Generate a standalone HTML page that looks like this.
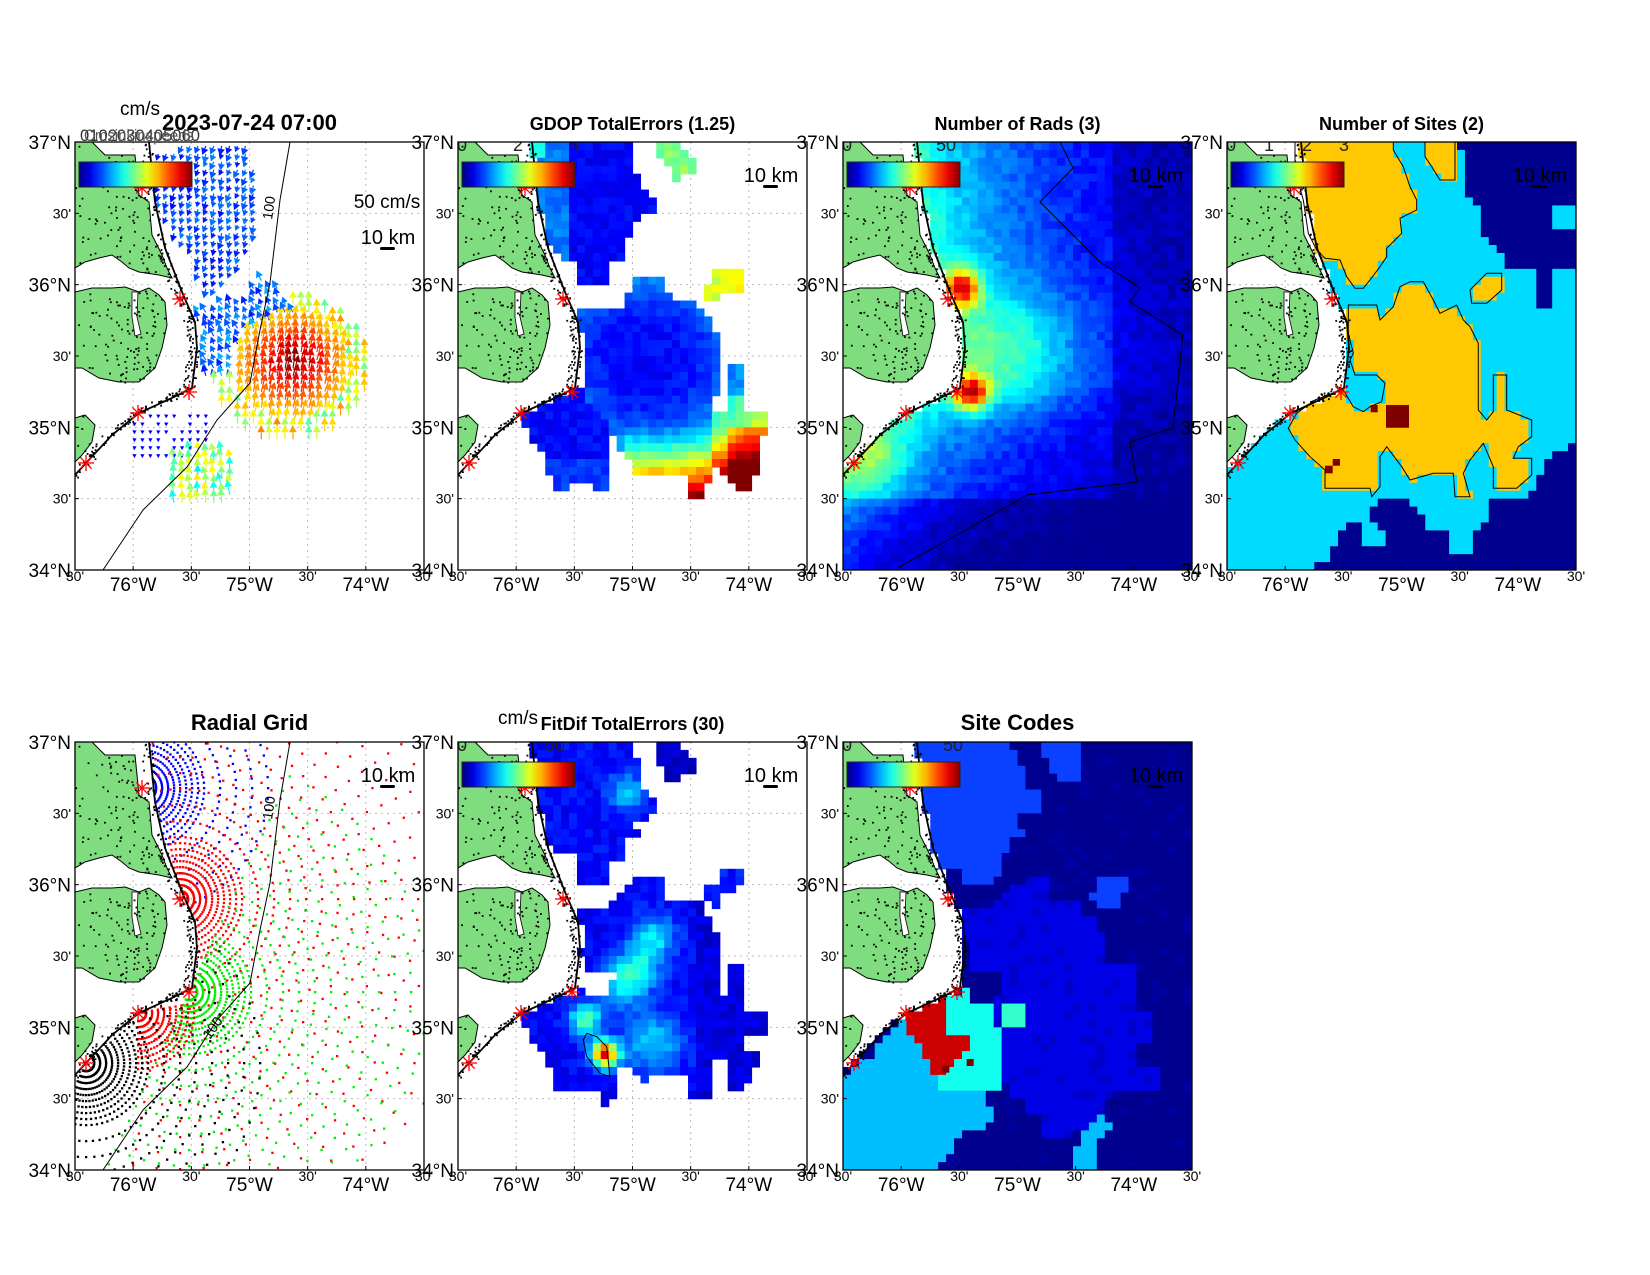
<!DOCTYPE html>
<html><head><meta charset="utf-8"><style>
html,body{margin:0;padding:0;background:#fff;}
svg{display:block;font-family:"Liberation Sans",Arial,sans-serif;}
</style></head><body>
<svg id="s" width="1650" height="1275" viewBox="0 0 1650 1275" xmlns="http://www.w3.org/2000/svg"></svg>
<script>
var W=349,H=428,CW=W/44,CH=H/54;
var seed=12345;function rnd(){seed=(seed*16807)%2147483647;return (seed-1)/2147483646;}
function jet(v){v=Math.max(0,Math.min(1,v));var f=function(t){return Math.round(255*Math.max(0,Math.min(1,1.5-Math.abs(4*v-t))));};return 'rgb('+f(3)+','+f(2)+','+f(1)+')';}
function pip(p,poly){var x=p[0],y=p[1],c=false;for(var i=0,j=poly.length-1;i<poly.length;j=i++){var xi=poly[i][0],yi=poly[i][1],xj=poly[j][0],yj=poly[j][1];if(((yi>y)!=(yj>y))&&(x<(xj-xi)*(y-yi)/(yj-yi)+xi))c=!c;}return c;}
function conv(arr,dx,dy){return arr.map(function(p){return [p[0]/3+dx,p[1]/3+dy];});}
function pts(poly){return poly.map(function(p){return p[0].toFixed(1)+','+p[1].toFixed(1);}).join(' ');}
var west=[[0,-20],[74,-20],[74,0],[80,60],[90,106],[107,150],[120,180],[122,206],[117,246],[97,256],[64,271],[37,293],[0,333],[-20,360],[-20,-20]];
function ocean(x,y){return !pip([x,y],west);}
var coast=[[74,0],[80,60],[90,106],[107,150],[120,180],[122,206],[117,246],[97,256],[64,271],[37,293],[0,333]];
var land1=[[0,0],[17,0],[30,13],[60,13],[64,53],[74,60],[77,93],[87,113],[92,126],[97,136],[84,133],[64,130],[54,126],[47,120],[37,113],[24,116],[10,120],[0,126]];
var land2=[[0,150],[17,146],[37,146],[50,145],[64,150],[74,146],[84,153],[90,160],[92,183],[87,206],[80,226],[64,240],[44,240],[24,236],[7,226],[0,226]];
var land3=[[0,276],[10,273],[20,283],[17,300],[7,313],[0,320]];
var notch=[[57,150],[63,150],[62,175],[66,192],[60,194],[57,175]];
var stars=[[67,46],[105,157],[114,250],[63,271],[11,321]];
var bathy=[[215,0],[205,58],[195,141],[185,188],[175,241],[142,278],[112,325],[68,368],[28,428]];
var dots=[];
(function(){var polys=[land1,land2,land3];for(var k=0;k<700;k++){var x=rnd()*100,y=rnd()*330;for(var q=0;q<3;q++){if(pip([x,y],polys[q])){var nearEdge=(x>40)||rnd()<0.35;if(nearEdge)dots.push([x,y]);}}}
for(var k=0;k<260;k++){var t=rnd()*(coast.length-1.001);var i=Math.floor(t),f=t-i;var x=coast[i][0]+(coast[i+1][0]-coast[i][0])*f,y=coast[i][1]+(coast[i+1][1]-coast[i][1])*f;dots.push([x-rnd()*12+2,y+rnd()*6-3]);}})();

function heat(fn){var s='';for(var i=0;i<44;i++)for(var j=0;j<54;j++){var x=(i+0.5)*CW,y=(j+0.5)*CH;if(!ocean(x,y))continue;var c=fn(x,y,i,j);if(!c)continue;s+='<rect x="'+(i*CW).toFixed(2)+'" y="'+(j*CH).toFixed(2)+'" width="'+(CW+0.6).toFixed(2)+'" height="'+(CH+0.6).toFixed(2)+'" fill="'+c+'"/>';}return s;}
function grid(){var s='';for(var k=1;k<6;k++){var x=k*W/6,y=k*H/6;s+='<line x1="'+x+'" y1="0" x2="'+x+'" y2="'+H+'" stroke="#bbb" stroke-width="1" stroke-dasharray="2,4"/>';s+='<line x1="0" y1="'+y+'" x2="'+W+'" y2="'+y+'" stroke="#bbb" stroke-width="1" stroke-dasharray="2,4"/>';}return s;}
function landLayer(){var s='';[land1,land2,land3].forEach(function(p){s+='<polygon points="'+pts(p)+'" fill="#7fdd7f" stroke="#000" stroke-width="1"/>';});s+='<polygon points="'+pts(notch)+'" fill="#fff" stroke="#000" stroke-width="0.8"/>';
dots.forEach(function(d){s+='<rect x="'+d[0].toFixed(1)+'" y="'+d[1].toFixed(1)+'" width="1.8" height="1.8" fill="#000"/>';});
s+='<polyline points="'+pts(coast)+'" fill="none" stroke="#000" stroke-width="1.8"/>';return s;}
function starLayer(){var s='';stars.forEach(function(p){var x=p[0],y=p[1],r=8;for(var a=0;a<4;a++){var t=a*Math.PI/4;s+='<line x1="'+(x-r*Math.cos(t))+'" y1="'+(y-r*Math.sin(t))+'" x2="'+(x+r*Math.cos(t))+'" y2="'+(y+r*Math.sin(t))+'" stroke="#f00" stroke-width="1.3"/>';}});return s;}
function cbar(id,labels){var s='<defs><linearGradient id="'+id+'" x1="0" x2="1" y1="0" y2="0">';for(var k=0;k<=10;k++)s+='<stop offset="'+(k/10)+'" stop-color="'+jet(k/10)+'"/>';s+='</linearGradient></defs>';s+='<rect x="4" y="20" width="113" height="25" fill="url(#'+id+')" stroke="#222" stroke-width="1"/>';labels.forEach(function(l){s+='<text x="'+l[1]+'" y="9" font-size="18" text-anchor="middle" fill="#222">'+l[0]+'</text>';});return s;}
function km(y){return '<text x="313" y="'+y+'" font-size="20" text-anchor="middle">10 km</text><rect x="305" y="'+(y+3)+'" width="15" height="3" rx="1.5" fill="#000"/>';}
function axes(px,py,title,tfs){var s='';s+='<rect x="'+px+'" y="'+py+'" width="'+W+'" height="'+H+'" fill="none" stroke="#000" stroke-width="1.3"/>';
var yl=['37°N',"30'",'36°N',"30'",'35°N',"30'",'34°N'];for(var k=0;k<7;k++){var y=py+k*H/6;var big=yl[k].length>3;s+='<text x="'+(px-4)+'" y="'+(y+(big?7:5))+'" font-size="'+(big?19:14)+'" text-anchor="end">'+yl[k]+'</text>';s+='<line x1="'+px+'" y1="'+y+'" x2="'+(px+4)+'" y2="'+y+'" stroke="#000"/>';}
var xl=["30'",'76°W',"30'",'75°W',"30'",'74°W',"30'"];for(var k=0;k<7;k++){var x=px+k*W/6;var big=xl[k].length>3;s+='<text x="'+x+'" y="'+(py+H+(big?21:11))+'" font-size="'+(big?19:14)+'" text-anchor="middle">'+xl[k]+'</text>';s+='<line x1="'+x+'" y1="'+(py+H)+'" x2="'+x+'" y2="'+(py+H-4)+'" stroke="#000"/>';}
s+='<text x="'+(px+W/2)+'" y="'+(py-12)+'" font-size="'+tfs+'" font-weight="bold" text-anchor="middle">'+title+'</text>';return s;}
function panel(px,py,inner){return '<g transform="translate('+px+','+py+')"><clipPath id="c'+px+'_'+py+'"><rect x="0" y="0" width="'+W+'" height="'+H+'"/></clipPath><g clip-path="url(#c'+px+'_'+py+')">'+inner+'</g></g>';}
function polyStroke(poly){return '<polyline points="'+pts(poly)+'" fill="none" stroke="#000" stroke-width="1"/>';}

var out='';
(function(){var px=75,py=142;var dx=-15,dy=-52;
var A=conv([[290,170],[560,160],[600,300],[580,440],[520,560],[470,600],[420,600],[400,500],[340,430],[290,350]],dx,dy);
var B=conv([[410,660],[480,640],[560,620],[600,560],[640,580],[700,650],[780,740],[700,800],[600,860],[500,880],[430,860],[420,760]],dx,dy);
var D=conv([[220,960],[450,960],[450,1110],[220,1110]],dx,dy);
var E=conv([[320,1120],[430,1080],[510,1100],[510,1230],[420,1260],[320,1260]],dx,dy);
var s=grid();
function arrow(x,y,a,L,c){var tx=x+L*Math.cos(a),ty=y+L*Math.sin(a);var h=Math.min(7,0.45*L+2.5),w=h*0.55;var bx=tx-h*Math.cos(a),by=ty-h*Math.sin(a);var nx=-Math.sin(a)*w,ny=Math.cos(a)*w;
return '<line x1="'+x.toFixed(1)+'" y1="'+y.toFixed(1)+'" x2="'+bx.toFixed(1)+'" y2="'+by.toFixed(1)+'" stroke="'+c+'" stroke-width="1.2"/><polygon points="'+tx.toFixed(1)+','+ty.toFixed(1)+' '+(bx+nx).toFixed(1)+','+(by+ny).toFixed(1)+' '+(bx-nx).toFixed(1)+','+(by-ny).toFixed(1)+'" fill="'+c+'"/>';}
for(var i=0;i<44;i++)for(var j=0;j<54;j++){var x=(i+0.5)*CW,y=(j+0.5)*CH;if(!ocean(x,y))continue;var p=[x,y];
var ex=(x-215)/60,ey=(y-231)/55;var e=Math.sqrt(ex*ex+ey*ey);
if(e<1){var v=1-0.35*e+0.05*(rnd()-0.5);s+=arrow(x,y,-1.35+0.2*(rnd()-0.5),22-6*e,jet(v));}
else if(pip(p,A)){var v=0.13+0.12*rnd();s+=arrow(x,y,1.9+0.3*(rnd()-0.5),6+4*rnd(),jet(v));}
else if(pip(p,B)){var v=0.15+0.15*rnd();s+=arrow(x,y,-2.0+0.4*(rnd()-0.5),7+5*rnd(),jet(v));}
else if(pip(p,E)){var v=0.35+0.3*rnd();s+=arrow(x,y,-1.7+0.3*(rnd()-0.5),12+4*rnd(),jet(v));}
else if(pip(p,D)){if(rnd()<0.7)s+=arrow(x,y,1.6,3,jet(0.12));}
else if(e<1.3&&rnd()<0.8){s+=arrow(x,y,-1.6,14,jet(0.45+0.3*rnd()));}}
s+=landLayer();s+=polyStroke(bathy);
s+='<text x="0" y="0" font-size="14" transform="translate(197,78) rotate(-82)">100</text>';
s+=starLayer();
s+=cbar('g1',[]);
s+='<text x="312" y="66" font-size="19" text-anchor="middle">50 cm/s</text>';
s+=km(102);
out+=panel(px,py,s);
out+=axes(px,py,'2023-07-24 07:00',22);
out+='<text x="140" y="115" font-size="19" text-anchor="middle">cm/s</text>';
out+='<text x="80" y="141" font-size="17" fill="#333" textLength="120" lengthAdjust="spacingAndGlyphs">0102030405060</text><text x="84" y="141" font-size="17" fill="#555" textLength="110" lengthAdjust="spacingAndGlyphs">Cmsinkinspeeds</text>';
})();

(function(){var px=458,py=142;var dx=-18,dy=-42;
var U=conv([[260,127],[580,127],[580,195],[600,240],[620,290],[645,290],[645,335],[580,355],[580,405],[555,430],[555,475],[510,495],[510,545],[485,565],[440,565],[420,545],[410,480],[350,470],[330,450],[300,380],[300,290],[270,270],[260,200]],dx,dy);
var C=conv([[555,590],[580,545],[620,520],[670,520],[670,570],[715,600],[780,615],[785,660],[805,660],[830,710],[830,890],[810,935],[810,945],[855,945],[855,800],[920,800],[920,940],[990,940],[990,1005],[945,1010],[970,1080],[940,1140],[920,1165],[880,1165],[855,1120],[810,1090],[805,1140],[785,1190],[740,1190],[740,1120],[650,1120],[600,1140],[580,1100],[555,1070],[520,1010],[510,960],[465,940],[440,890],[440,875],[440,780],[420,690],[420,615],[510,615],[530,635]],dx,dy);
var L=conv([[235,940],[330,915],[375,870],[440,870],[440,915],[510,915],[510,1165],[465,1165],[465,1140],[375,1165],[350,1165],[300,1050],[260,1000]],dx,dy);
var T=conv([[650,127],[715,127],[715,150],[760,170],[760,215],[715,240],[690,215],[650,170]],dx,dy);
var R=conv([[830,500],[900,500],[900,570],[850,570],[850,610],[810,610],[785,570],[810,545]],dx,dy);
var s=grid();
s+=heat(function(x,y){var p=[x,y],n=0.06*(rnd()-0.5);
if(pip(p,C)){var d=Math.sqrt(Math.pow((x-189)/95,2)+Math.pow((y-218)/85,2));var v=0.13+0.25*Math.pow(Math.max(0,d-0.3),1.6)+n;if(y>285&&x>170)v+=(y-285)/55*0.35+((x>270)?0.15:0);if(x>250&&y>250)v+=0.15;return jet(v);}
if(pip(p,U)){var v=0.12+n+(x<110?0.12:0)+(y<15&&x<90?0.15:0);return jet(v);}
if(pip(p,L)){return jet(0.13+n+(y>320?0.05:0));}
if(pip(p,T)){return jet(0.45+0.1*rnd());}
if(pip(p,R)){return jet(0.55+0.1*rnd());}
return null;});
s+=landLayer();s+=starLayer();s+=cbar('g2',[['0',4],['2',60],['4',117]]);s+=km(40);
out+=panel(px,py,s);out+=axes(px,py,'GDOP TotalErrors (1.25)',18);})();

(function(){var px=843,py=142;
function cx(y){var i;for(i=0;i<coast.length-1;i++){if(y>=coast[i][1]&&y<=coast[i+1][1]){var f=(y-coast[i][1])/(coast[i+1][1]-coast[i][1]);return coast[i][0]+f*(coast[i+1][0]-coast[i][0]);}}return 0-(y-333)*1.0;}
var s=grid();
s+=heat(function(x,y){var d=x-cx(y);var v=0.05+0.38*Math.exp(-d/120);
v+=0.55*Math.exp(-(Math.pow(x-120,2)+Math.pow(y-146,2))/300);
v+=0.55*Math.exp(-(Math.pow(x-129,2)+Math.pow(y-251,2))/300);
v+=0.15*Math.exp(-(Math.pow(x-175,2)+Math.pow(y-210,2))/3000);
v+=0.15*Math.exp(-(Math.pow(x-30,2)+Math.pow(y-320,2))/1200);
if(y>360)v-=0.08;if(x>270)v-=0.05;
v+=0.06*(rnd()-0.5);return jet(Math.max(0.02,v));});
var c3=[[217,0],[230,26],[197,60],[257,120],[297,146],[287,160],[340,193],[330,286],[287,300],[294,340],[184,353],[114,393],[54,426]];
s+=polyStroke(c3);
s+=landLayer();s+=starLayer();s+=cbar('g3',[['0',4],['50',103]]);s+=km(40);
out+=panel(px,py,s);out+=axes(px,py,'Number of Rads (3)',18);})();

(function(){var px=1227,py=142;var dx=-27,dy=-42;
var NV=conv([[765,100],[1140,100],[1140,310],[1060,310],[1060,380],[1140,380],[1140,500],[1060,500],[1060,615],[1015,615],[1015,500],[925,500],[905,475],[880,430],[835,380],[835,335],[810,290],[790,240],[790,150],[765,150]],dx,dy);
var NB=conv([[330,1420],[375,1380],[400,1350],[420,1310],[445,1280],[470,1260],[490,1280],[490,1340],[540,1340],[560,1300],[515,1260],[515,1210],[580,1190],[630,1210],[670,1240],[670,1300],[740,1300],[765,1370],[830,1370],[830,1300],[860,1270],[880,1190],[980,1190],[1040,1100],[1040,1070],[1140,1030],[1140,1420]],dx,dy);
var Y1=conv([[285,100],[580,100],[580,150],[610,200],[630,260],[650,300],[650,330],[600,355],[605,400],[560,445],[560,470],[540,500],[510,540],[490,565],[465,565],[440,530],[420,480],[375,475],[350,450],[325,400],[310,300],[300,265],[285,200]],dx,dy);
var Y2=conv([[675,100],[765,100],[765,240],[720,240],[695,200],[675,170]],dx,dy);
var Y3=conv([[810,570],[860,520],[905,520],[905,570],[860,610],[815,610]],dx,dy);
var Y4=conv([[445,615],[530,615],[540,660],[580,620],[600,560],[630,545],[670,545],[700,600],[720,640],[770,615],[790,660],[810,680],[835,730],[835,930],[860,960],[880,935],[880,825],[920,825],[920,930],[995,960],[995,1010],[955,1040],[940,1075],[995,1075],[995,1125],[950,1165],[880,1165],[880,1100],[850,1030],[810,1080],[790,1120],[810,1190],[765,1190],[760,1120],[700,1120],[630,1140],[605,1100],[560,1040],[540,1070],[540,1160],[515,1190],[510,1165],[375,1165],[375,1110],[330,1070],[285,1020],[265,985],[290,940],[345,900],[410,875],[430,870],[460,920],[490,935],[510,920],[545,905],[555,850],[530,825],[465,825],[450,780],[460,760],[445,700]],dx,dy);
var DR=[conv([[558,915],[627,915],[627,983],[558,983]],dx,dy),conv([[375,1097],[398,1097],[398,1120],[375,1120]],dx,dy),conv([[398,1077],[420,1077],[420,1097],[398,1097]],dx,dy),conv([[512,915],[533,915],[533,937],[512,937]],dx,dy)];
var s=grid();
s+=heat(function(x,y){var p=[x,y];if(pip(p,Y1)||pip(p,Y2)||pip(p,Y3)||pip(p,Y4))return '#ffc800';if(pip(p,NV)||pip(p,NB))return '#00008f';return '#00dcff';});
DR.forEach(function(q){s+='<polygon points="'+pts(q)+'" fill="#800000"/>';});
[Y1,Y2,Y3,Y4].forEach(function(q){s+='<polygon points="'+pts(q)+'" fill="none" stroke="#000" stroke-width="1"/>';});
s+=landLayer();s+=starLayer();s+=cbar('g4',[['0',4],['1',42],['2',80],['3',117]]);s+=km(40);
out+=panel(px,py,s);out+=axes(px,py,'Number of Sites (2)',18);})();

(function(){var px=75,py=742;var s=grid();
var cfg=[[0,'#00f',-95,125,140],[1,'#f00',-100,100,330],[2,'#0e0',-65,115,240],[3,'#f00',-10,90,60],[4,'#000',-40,115,180]];
cfg.forEach(function(c){var st=stars[c[0]];var r=8;while(r<=c[4]){for(var a=c[2];a<=c[3];a+=5){var t=a*Math.PI/180;var x=st[0]+r*Math.cos(t),y=st[1]+r*Math.sin(t);if(x<0||y<0||x>W||y>H)continue;if(!ocean(x,y))continue;s+='<rect x="'+(x-1).toFixed(1)+'" y="'+(y-1).toFixed(1)+'" width="2.3" height="2.3" fill="'+c[1]+'"/>';}r+=(r<60?6:16);}});
s+=landLayer();s+=polyStroke(bathy);
s+='<text x="0" y="0" font-size="14" transform="translate(197,78) rotate(-82)">100</text>';
s+='<text x="0" y="0" font-size="14" transform="translate(135,298) rotate(-55)">100</text>';
s+=starLayer();s+=km(40);
out+=panel(px,py,s);out+=axes(px,py,'Radial Grid',22);})();

(function(){var px=458,py=742;var dx=-18,dy=-52;
var U=conv([[260,157],[580,157],[580,200],[600,225],[600,295],[645,320],[645,365],[625,385],[580,385],[580,410],[600,410],[600,430],[555,455],[555,500],[510,525],[510,575],[485,595],[440,595],[420,575],[420,500],[350,500],[330,480],[300,430],[300,315],[280,295],[260,250]],dx,dy);
var T=conv([[650,157],[715,157],[740,200],[760,200],[760,245],[715,245],[715,270],[690,270],[670,245],[650,200]],dx,dy);
var R=conv([[830,530],[900,530],[900,595],[850,620],[850,645],[810,645],[785,600],[830,575]],dx,dy);
var C=conv([[420,645],[510,645],[530,620],[555,595],[580,575],[600,550],[670,550],[670,620],[720,620],[785,645],[785,690],[805,690],[830,740],[830,920],[855,920],[855,830],[920,830],[920,970],[990,970],[990,1015],[970,1035],[920,1035],[920,1085],[965,1085],[965,1105],[945,1140],[920,1195],[875,1195],[855,1165],[855,1100],[810,1110],[810,1220],[740,1220],[740,1165],[690,1140],[645,1165],[600,1170],[580,1140],[535,1140],[530,1190],[510,1240],[485,1240],[485,1195],[350,1195],[330,1130],[300,1085],[260,1030],[235,975],[300,945],[330,920],[375,920],[420,900],[440,900],[440,920],[510,920],[510,900],[530,850],[485,845],[440,845],[420,780],[440,740],[420,690]],dx,dy);
var s=grid();
s+=heat(function(x,y){var p=[x,y],n=0.07*(rnd()-0.5);
if(pip(p,C)){var v=0.12+n;
var rx=[[196,195],[180,225],[163,245]];rx.forEach(function(q){v+=0.22*Math.exp(-(Math.pow(x-q[0],2)+Math.pow(y-q[1],2))/500);});
v+=0.2*Math.exp(-(Math.pow(x-195,2)+Math.pow(y-300,2))/900);
v+=0.75*Math.exp(-(Math.pow(x-147,2)+Math.pow(y-312,2))/180);
v+=0.35*Math.exp(-(Math.pow(x-127,2)+Math.pow(y-278,2))/250);
if(x>240)v-=0.03;return jet(v);}
if(pip(p,U)){var v=0.13+n+0.2*Math.exp(-(Math.pow(x-168,2)+Math.pow(y-50,2))/300);return jet(v);}
if(pip(p,T))return jet(0.07+n);
if(pip(p,R))return jet(0.15+n);
return null;});
s+='<polyline points="'+pts(conv([[440,1030],[470,1040],[500,1070],[510,1160],[480,1150],[440,1100],[430,1050],[440,1030]],dx,dy))+'" fill="none" stroke="#000" stroke-width="1"/>';
s+=landLayer();s+=starLayer();s+=cbar('g6',[['0',4],['50',97]]);s+=km(40);
out+=panel(px,py,s);out+=axes(px,py,'FitDif TotalErrors (30)',18);
out+='<text x="518" y="724" font-size="19" text-anchor="middle">cm/s</text>';})();

(function(){var px=843,py=742;var dx=-63,dy=-42;
var MB=[conv([[395,100],[690,100],[690,150],[715,150],[715,195],[740,195],[740,265],[780,265],[780,330],[715,330],[715,380],[740,380],[740,405],[690,405],[690,470],[670,470],[670,520],[645,520],[645,545],[625,545],[625,565],[580,565],[555,545],[555,495],[485,495],[485,470],[460,450],[440,400],[420,300],[395,200]],dx,dy),
conv([[785,100],[875,100],[900,150],[900,240],[830,240],[805,195],[785,150]],dx,dy),
conv([[945,525],[1035,525],[1035,565],[1015,615],[945,615],[920,590],[945,565]],dx,dy)];
var BL=conv([[555,615],[645,615],[690,570],[720,545],[810,525],[810,590],[900,590],[920,660],[945,660],[965,710],[965,800],[1060,800],[1060,940],[1125,940],[1125,1030],[1060,1030],[1060,1100],[1130,1100],[1130,1165],[1010,1165],[990,1190],[965,1190],[965,1260],[945,1260],[920,1280],[880,1305],[785,1305],[785,1240],[740,1240],[740,1190],[690,1190],[670,1140],[670,985],[640,960],[640,890],[670,870],[670,820],[580,820],[555,700]],dx,dy);
var LB=[conv([[235,1090],[280,1075],[300,1030],[350,985],[370,960],[395,1005],[420,1010],[440,1075],[440,1100],[485,1120],[485,1165],[625,1165],[625,1210],[645,1210],[645,1235],[625,1280],[555,1280],[530,1310],[530,1350],[485,1380],[440,1420],[180,1420],[180,1140]],dx,dy),
conv([[880,1370],[900,1305],[920,1280],[945,1260],[965,1240],[990,1260],[990,1300],[945,1320],[945,1420],[880,1420]],dx,dy)];
var CY=conv([[490,890],[580,870],[580,915],[645,915],[645,985],[670,985],[670,1165],[485,1165],[485,1120],[530,1075],[575,1050],[575,1010],[510,1010],[510,915],[490,915]],dx,dy);
var AQ=conv([[670,915],[738,915],[738,983],[670,983]],dx,dy);
var RD=conv([[370,940],[440,915],[465,890],[490,890],[510,915],[510,1010],[575,1010],[575,1050],[530,1075],[510,1100],[510,1120],[465,1120],[440,1100],[440,1075],[395,1005],[370,960]],dx,dy);
var s=grid();
s+=heat(function(x,y){var p=[x,y];if(pip(p,RD))return '#cc0000';if(pip(p,CY))return '#10ffef';if(pip(p,AQ))return '#33ffcc';if(pip(p,LB[0])||pip(p,LB[1]))return '#00bfff';
if(pip(p,MB[0])||pip(p,MB[1])||pip(p,MB[2]))return '#0a40ff';if(pip(p,BL))return (rnd()<0.12?'#0000c8':'#0000e6');return (rnd()<0.1?'#0000a0':'#000090');});
s+='<rect x="'+(560/3+dx)+'" y="'+(1077/3+dy)+'" width="7" height="7" fill="#800000"/><rect x="'+(487/3+dx)+'" y="'+(1097/3+dy)+'" width="7" height="7" fill="#800000"/>';
s+=landLayer();s+=starLayer();s+=cbar('g7',[['0',4],['50',110]]);s+=km(40);
out+=panel(px,py,s);out+=axes(px,py,'Site Codes',22);})();

document.getElementById('s').innerHTML=out;
</script>
</body></html>
